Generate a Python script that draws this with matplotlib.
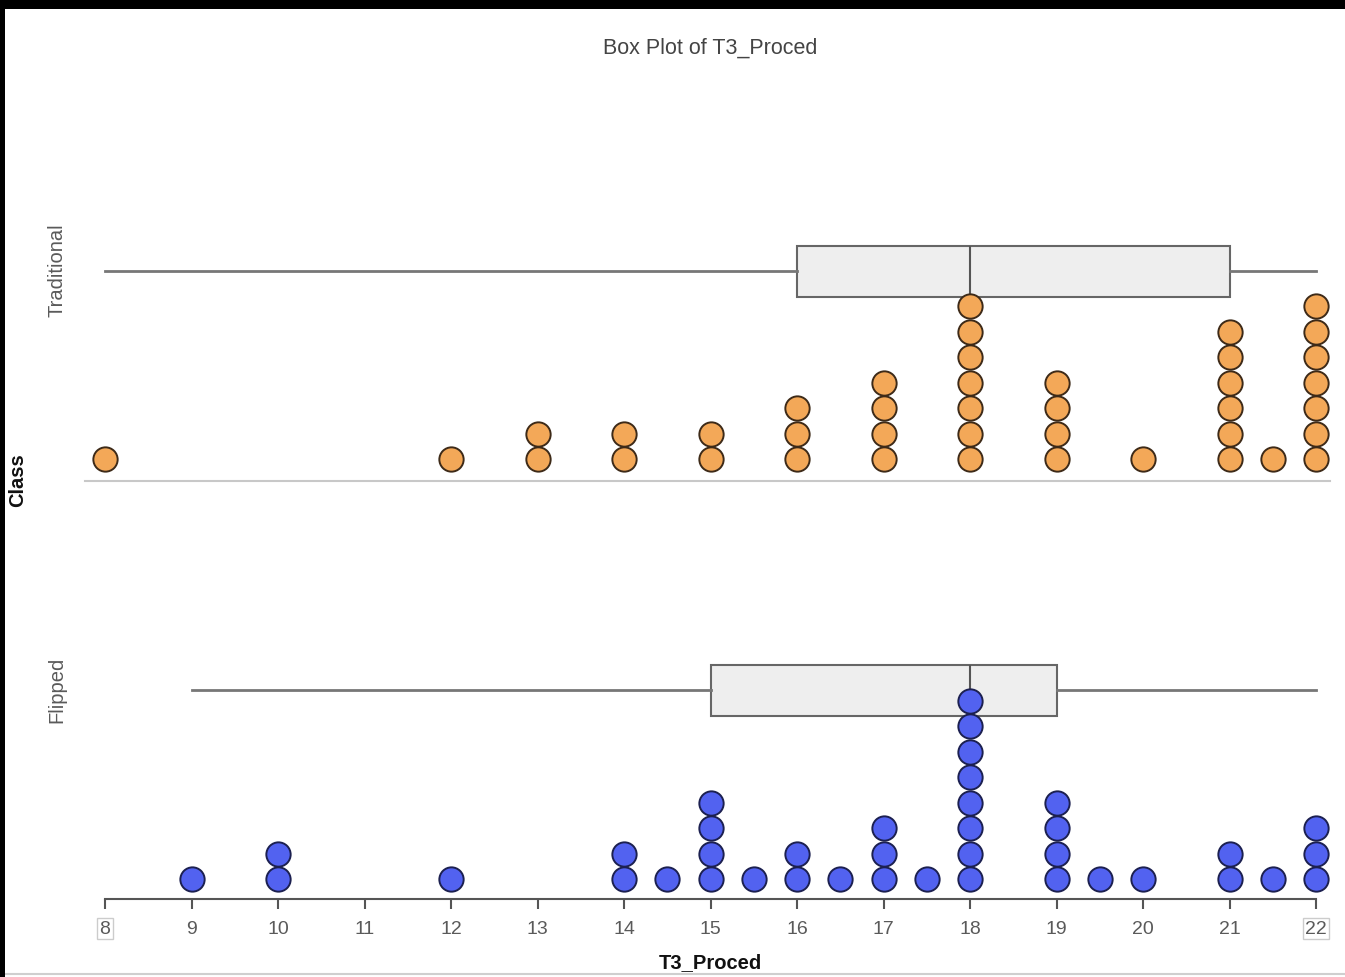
import numpy as np
import matplotlib
matplotlib.use("Agg")
import matplotlib.pyplot as plt
from matplotlib.patches import Rectangle
from matplotlib.lines import Line2D

# dot counts per score, one list pair per class
trad_x = [8, 12, 13, 14, 15, 16, 17, 18, 19, 20, 21, 21.5, 22]
trad_n = [1, 1, 2, 2, 2, 3, 4, 7, 4, 1, 6, 1, 7]
flip_x = [9, 10, 12, 14, 14.5, 15, 15.5, 16, 16.5, 17, 17.5, 18, 19, 19.5, 20, 21, 21.5, 22]
flip_n = [1, 2, 1, 2, 1, 4, 1, 2, 1, 3, 1, 8, 4, 1, 1, 2, 1, 3]

# five-number summaries: min, q1, median, q3, max
trad_box = [8, 16, 18, 21, 22]
flip_box = [9, 15, 18, 19, 22]

ticks = list(range(8, 23))
classes = ["Traditional", "Flipped"]

W, H = 1345, 978
UNIT_X = (1316 - 105) / 14.0   # px per score
UNIT_Y = 25.5                  # px per stacked dot

font = "Liberation Sans"
grey_txt = "#5a5a5a"


def rect(x0, y0, x1, y1):
    return [x0 / W, 1 - y1 / H, (x1 - x0) / W, (y1 - y0) / H]


def stack(ax, xs, ns, y0, face, edge):
    for x, n in zip(xs, ns):
        ys = y0 + np.arange(n)
        ax.plot([x] * n, ys, "o", ms=17.5, mfc=face, mec=edge, mew=1.4,
                clip_on=False, zorder=3)


def box(ax, stats, pos):
    lo, q1, med, q3, hi = stats
    ax.bxp([{"whislo": lo, "q1": q1, "med": med, "q3": q3, "whishi": hi}],
           positions=[pos], widths=2.0, orientation="horizontal",
           showcaps=False, showfliers=False, patch_artist=True,
           boxprops=dict(facecolor="#eeeeee", edgecolor="#666666", linewidth=1.5),
           medianprops=dict(color="#555555", linewidth=1.5),
           whiskerprops=dict(color="#777777", linewidth=2.0))


fig = plt.figure(figsize=(W / 100, H / 100), dpi=100, facecolor="white")

xlo = 8 - (105 - 85) / UNIT_X
xhi = 22 + (1330 - 1316) / UNIT_X

# Traditional panel
ax1 = fig.add_axes(rect(85, 150, 1330, 482))
ax1.set_xlim(xlo, xhi)
ax1.set_ylim(0, (482 - 150) / UNIT_Y)
box(ax1, trad_box, (482 - 272) / UNIT_Y)
stack(ax1, trad_x, trad_n, 22 / UNIT_Y, "#f3a858", "#3d2a18")
for s in ["top", "right", "left"]:
    ax1.spines[s].set_visible(False)
ax1.spines["bottom"].set_color("#c8c8c8")
ax1.spines["bottom"].set_linewidth(1.5)
ax1.set_xticks([])
ax1.set_yticks([])
ax1.patch.set_alpha(0)

# Flipped panel
ax2 = fig.add_axes(rect(85, 560, 1330, 900))
ax2.set_xlim(xlo, xhi)
ax2.set_ylim(0, (900 - 560) / UNIT_Y)
box(ax2, flip_box, (900 - 691) / UNIT_Y)
stack(ax2, flip_x, flip_n, 20 / UNIT_Y, "#5262f0", "#1c2050")
for s in ["top", "right", "left"]:
    ax2.spines[s].set_visible(False)
ax2.spines["bottom"].set_bounds(8, 22)
ax2.spines["bottom"].set_color("#555555")
ax2.spines["bottom"].set_linewidth(1.5)
ax2.set_yticks([])
ax2.set_xticks(ticks)
ax2.set_xticklabels([str(t) for t in ticks], fontsize=14, color=grey_txt,
                    fontfamily=font)
ax2.tick_params(axis="x", length=7, width=1.5, color="#555555", pad=8)
for lab in ax2.get_xticklabels():
    if lab.get_text() in ("8", "22"):
        lab.set_bbox(dict(facecolor="white", edgecolor="#cccccc", pad=1.5,
                          linewidth=1))
ax2.patch.set_alpha(0)

# titles and axis names
fig.text(710 / W, 1 - 48 / H, "Box Plot of T3_Proced", ha="center", va="center",
         fontsize=15.5, color="#444444", fontfamily=font)
fig.text(710 / W, 1 - 963 / H, "T3_Proced", ha="center", va="center",
         fontsize=14.5, fontweight="bold", color="#111111", fontfamily=font)
fig.text(18 / W, 1 - 480 / H, "Class", ha="center", va="center", rotation=90,
         fontsize=14.5, fontweight="bold", color="#111111", fontfamily=font)
fig.text(57 / W, 1 - 270 / H, classes[0], ha="center", va="center", rotation=90,
         fontsize=14.5, color=grey_txt, fontfamily=font)
fig.text(57 / W, 1 - 690 / H, classes[1], ha="center", va="center", rotation=90,
         fontsize=14.5, color=grey_txt, fontfamily=font)

# dark frame at top and left edge, thin rule at the bottom
fig.patches.append(Rectangle((0, 1 - 10 / H), 1, 10 / H, transform=fig.transFigure,
                             facecolor="black", edgecolor="none", zorder=10))
fig.patches.append(Rectangle((0, 0), 5 / W, 1, transform=fig.transFigure,
                             facecolor="black", edgecolor="none", zorder=10))
fig.lines.append(Line2D([5 / W, 1], [3 / H, 3 / H], transform=fig.transFigure,
                        color="#cfcfcf", linewidth=1.5))

fig.savefig("out.png", dpi=100, facecolor="white")
